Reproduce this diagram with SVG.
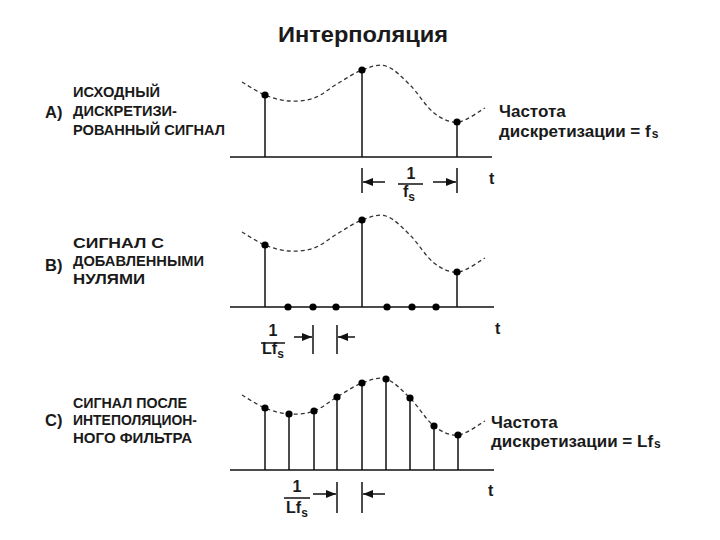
<svg xmlns="http://www.w3.org/2000/svg" width="720" height="540" viewBox="0 0 720 540">
<style>
text{font-family:"Liberation Sans",Arial,sans-serif;font-weight:bold;fill:#1a1a1a}
.lbl{font-size:15px}
.let{font-size:16.5px}
.rl{font-size:17px}
.frac{font-size:16px}
.sub{font-size:12px}
.tt{font-size:16px}
.ax{stroke:#111;stroke-width:1.5;fill:none}
.stem{stroke:#111;stroke-width:1.5}
.dot{fill:#000}
.curve{stroke:#333;stroke-width:1.3;fill:none;stroke-dasharray:4 3}
.dim{stroke:#111;stroke-width:1.5}
</style>
<defs>
<path id="wave" d="M242,82 C245.8,84.2 257.2,91.8 265,95 C272.8,98.2 280.8,100.5 289,101 C297.2,101.5 306,100.8 314,98 C322,95.2 329,88.7 337,84 C345,79.3 353.8,73 362,70 C370.2,67 378,63.5 386,66 C394,68.5 402,77.2 410,85 C418,92.8 426,106.8 434,113 C442,119.2 449.5,122.8 458,122 C466.5,121.2 480.5,110.3 485,108"/>
<marker id="ah" viewBox="0 0 10 8" refX="10" refY="4" markerWidth="10" markerHeight="8" markerUnits="userSpaceOnUse" orient="auto">
<path d="M0,0 L10,4 L0,8 Z" fill="#111"/>
</marker>
</defs>

<text x="363" y="42" text-anchor="middle" font-size="22" textLength="170" lengthAdjust="spacingAndGlyphs">Интерполяция</text>

<g id="panelA">
<g id="labelA">
<text class="let" x="45" y="118">A)</text>
<text class="lbl" x="73" y="97" textLength="87" lengthAdjust="spacingAndGlyphs">ИСХОДНЫЙ</text>
<text class="lbl" x="73" y="116" textLength="104" lengthAdjust="spacingAndGlyphs">ДИСКРЕТИЗИ-</text>
<text class="lbl" x="73" y="135" textLength="152" lengthAdjust="spacingAndGlyphs">РОВАННЫЙ СИГНАЛ</text>
</g>
<g id="signalA">
<use href="#wave" class="curve"/>
<line class="ax" x1="230" y1="157" x2="492" y2="157"/>
<line class="stem" x1="265" y1="157" x2="265" y2="95"/>
<line class="stem" x1="362" y1="157" x2="362" y2="70"/>
<line class="stem" x1="457" y1="157" x2="457" y2="122"/>
<circle class="dot" cx="265" cy="95" r="3.6"/>
<circle class="dot" cx="362" cy="70" r="3.6"/>
<circle class="dot" cx="457" cy="122" r="3.6"/>
</g>
<g id="rateA">
<text class="rl" x="499" y="117">Частота</text>
<text class="rl" x="499" y="137">дискретизации = f<tspan font-size="12" dx="1" dy="1">s</tspan></text>
</g>
<g id="dimA">
<line class="dim" x1="362" y1="168" x2="362" y2="193"/>
<line class="dim" x1="457" y1="168" x2="457" y2="193"/>
<line class="dim" x1="385" y1="182" x2="363" y2="182" marker-end="url(#ah)"/>
<line class="dim" x1="433" y1="182" x2="456" y2="182" marker-end="url(#ah)"/>
<text class="frac" x="411" y="179" text-anchor="middle">1</text>
<line class="dim" x1="398" y1="184" x2="423" y2="184"/>
<text class="frac" x="409" y="197" text-anchor="middle">f<tspan class="sub" dy="4">s</tspan></text>
<text class="tt" x="489" y="184">t</text>
</g>
</g>

<g id="panelB">
<g id="labelB">
<text class="let" x="45" y="271">B)</text>
<text class="lbl" x="73" y="248" textLength="91" lengthAdjust="spacingAndGlyphs">СИГНАЛ С</text>
<text class="lbl" x="73" y="266" textLength="131" lengthAdjust="spacingAndGlyphs">ДОБАВЛЕННЫМИ</text>
<text class="lbl" x="73" y="284" textLength="72" lengthAdjust="spacingAndGlyphs">НУЛЯМИ</text>
</g>
<g id="signalB">
<use href="#wave" class="curve" transform="translate(0,150)"/>
<line class="ax" x1="230" y1="307" x2="494" y2="307"/>
<line class="stem" x1="265" y1="307" x2="265" y2="245"/>
<line class="stem" x1="362" y1="307" x2="362" y2="220"/>
<line class="stem" x1="457" y1="307" x2="457" y2="272"/>
<circle class="dot" cx="265" cy="245" r="3.6"/>
<circle class="dot" cx="362" cy="220" r="3.6"/>
<circle class="dot" cx="457" cy="272" r="3.6"/>
<circle class="dot" cx="288" cy="307" r="3.6"/>
<circle class="dot" cx="313" cy="307" r="3.6"/>
<circle class="dot" cx="336" cy="307" r="3.6"/>
<circle class="dot" cx="387" cy="307" r="3.6"/>
<circle class="dot" cx="412" cy="307" r="3.6"/>
<circle class="dot" cx="436" cy="307" r="3.6"/>
</g>
<g id="dimB">
<line class="dim" x1="313" y1="325" x2="313" y2="354"/>
<line class="dim" x1="337" y1="325" x2="337" y2="354"/>
<line class="dim" x1="294" y1="337" x2="312" y2="337" marker-end="url(#ah)"/>
<line class="dim" x1="355" y1="337" x2="338" y2="337" marker-end="url(#ah)"/>
<text class="frac" x="273" y="336" text-anchor="middle">1</text>
<line class="dim" x1="261" y1="343" x2="285" y2="343"/>
<text class="frac" x="273" y="354" text-anchor="middle">Lf<tspan class="sub" dy="4">s</tspan></text>
<text class="tt" x="495" y="334">t</text>
</g>
</g>

<g id="panelC">
<g id="labelC">
<text class="let" x="45" y="426">C)</text>
<text class="lbl" x="73" y="408" textLength="114" lengthAdjust="spacingAndGlyphs">СИГНАЛ ПОСЛЕ</text>
<text class="lbl" x="73" y="425" textLength="124" lengthAdjust="spacingAndGlyphs">ИНТЕПОЛЯЦИОН-</text>
<text class="lbl" x="73" y="443" textLength="119" lengthAdjust="spacingAndGlyphs">НОГО ФИЛЬТРА</text>
</g>
<g id="signalC">
<use href="#wave" class="curve" transform="translate(0,313)"/>
<line class="ax" x1="230" y1="470" x2="494" y2="470"/>
<line class="stem" x1="265" y1="470" x2="265" y2="408"/>
<line class="stem" x1="289" y1="470" x2="289" y2="414"/>
<line class="stem" x1="314" y1="470" x2="314" y2="411"/>
<line class="stem" x1="337" y1="470" x2="337" y2="397"/>
<line class="stem" x1="362" y1="470" x2="362" y2="383"/>
<line class="stem" x1="386" y1="470" x2="386" y2="379"/>
<line class="stem" x1="410" y1="470" x2="410" y2="398"/>
<line class="stem" x1="434" y1="470" x2="434" y2="426"/>
<line class="stem" x1="458" y1="470" x2="458" y2="435"/>
<circle class="dot" cx="265" cy="408" r="3.6"/>
<circle class="dot" cx="289" cy="414" r="3.6"/>
<circle class="dot" cx="314" cy="411" r="3.6"/>
<circle class="dot" cx="337" cy="397" r="3.6"/>
<circle class="dot" cx="362" cy="383" r="3.6"/>
<circle class="dot" cx="386" cy="379" r="3.6"/>
<circle class="dot" cx="410" cy="398" r="3.6"/>
<circle class="dot" cx="434" cy="426" r="3.6"/>
<circle class="dot" cx="458" cy="435" r="3.6"/>
</g>
<g id="rateC">
<text class="rl" x="491" y="428">Частота</text>
<text class="rl" x="491" y="447">дискретизации = Lf<tspan font-size="12" dx="1" dy="1">s</tspan></text>
</g>
<g id="dimC">
<line class="dim" x1="337" y1="482" x2="337" y2="513"/>
<line class="dim" x1="362" y1="482" x2="362" y2="513"/>
<line class="dim" x1="313" y1="494" x2="336" y2="494" marker-end="url(#ah)"/>
<line class="dim" x1="385" y1="494" x2="363" y2="494" marker-end="url(#ah)"/>
<text class="frac" x="297" y="492" text-anchor="middle">1</text>
<line class="dim" x1="284" y1="498" x2="310" y2="498"/>
<text class="frac" x="297" y="513" text-anchor="middle">Lf<tspan class="sub" dy="4">s</tspan></text>
<text class="tt" x="488" y="496">t</text>
</g>
</g>
</svg>
